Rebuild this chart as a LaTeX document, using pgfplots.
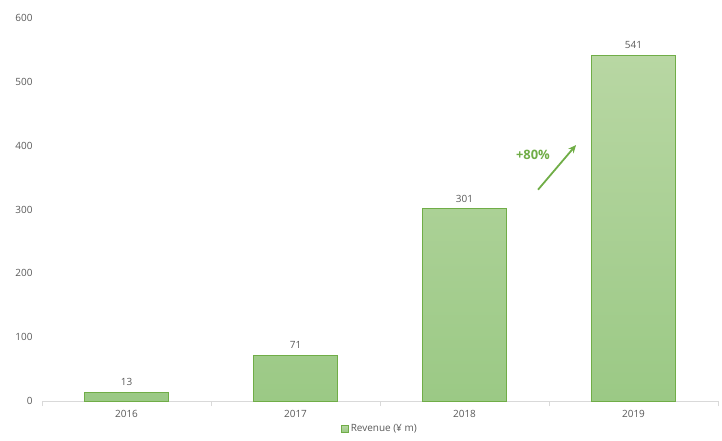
\documentclass[border=0pt]{standalone}
\usepackage{pgfplots}
\pgfplotsset{compat=1.18}
\usepackage{fontspec}
\setmainfont{Open Sans}
\usetikzlibrary{arrows.meta}
\definecolor{txtgray}{HTML}{595959}
\definecolor{axgray}{HTML}{D9D9D9}
\definecolor{edgegreen}{HTML}{70AD47}
\definecolor{topgreen}{HTML}{B8D7A3}
\definecolor{botgreen}{HTML}{9BC985}
\begin{document}
\begin{tikzpicture}
\begin{axis}[
  scale only axis,
  width=676bp, height=383bp,
  xmin=-0.5, xmax=3.5,
  ymin=0, ymax=600,
  ytick={0,100,...,600},
  xtick={0,1,2,3},
  xticklabels={2016,2017,2018,2019},
  minor xtick={-0.5,0.5,1.5,2.5,3.5},
  major tick length=0pt,
  minor tick length=5bp,
  tick align=outside,
  minor tick style={axgray, line width=0.75bp},
  axis x line*=bottom,
  axis y line*=left,
  x axis line style={axgray, line width=0.75bp, -},
  y axis line style={draw=none},
  ticklabel style={txtgray, font=\fontsize{10}{12}\selectfont},
  /pgf/number format/assume math mode=true,
  yticklabel style={xshift=-6bp},
  xticklabel style={yshift=-6bp},
  ybar, bar width=0.5,
  nodes near coords,
  nodes near coords style={txtgray, font=\fontsize{10}{12}\selectfont, yshift=3bp},
  legend style={draw=none, at={(0.5,-0.072)}, anchor=center, font=\fontsize{10}{12}\selectfont, text=txtgray, inner sep=0pt},
  legend image code/.code={\draw[edgegreen, fill=botgreen!80!white, line width=0.5bp] (0bp,-3.5bp) rectangle (7bp,3.5bp);},
  clip=false,
]
\addplot[draw=edgegreen, line width=0.75bp, top color=topgreen, bottom color=botgreen]
  coordinates {(0,13) (1,71) (2,301) (3,541)};
\addlegendentry{Revenue (¥ m)}
\draw[edgegreen, line width=1.8bp, -{Stealth[length=8bp, width=7bp]}] (axis cs:2.435,331) -- (axis cs:2.66,401);
\node[edgegreen, font=\fontsize{13}{15}\selectfont\bfseries] at (axis cs:2.405,386) {+80\%};
\end{axis}
\pgfresetboundingbox
\path (-42bp,-40bp) rectangle (680bp,401bp);
\end{tikzpicture}
\end{document}
